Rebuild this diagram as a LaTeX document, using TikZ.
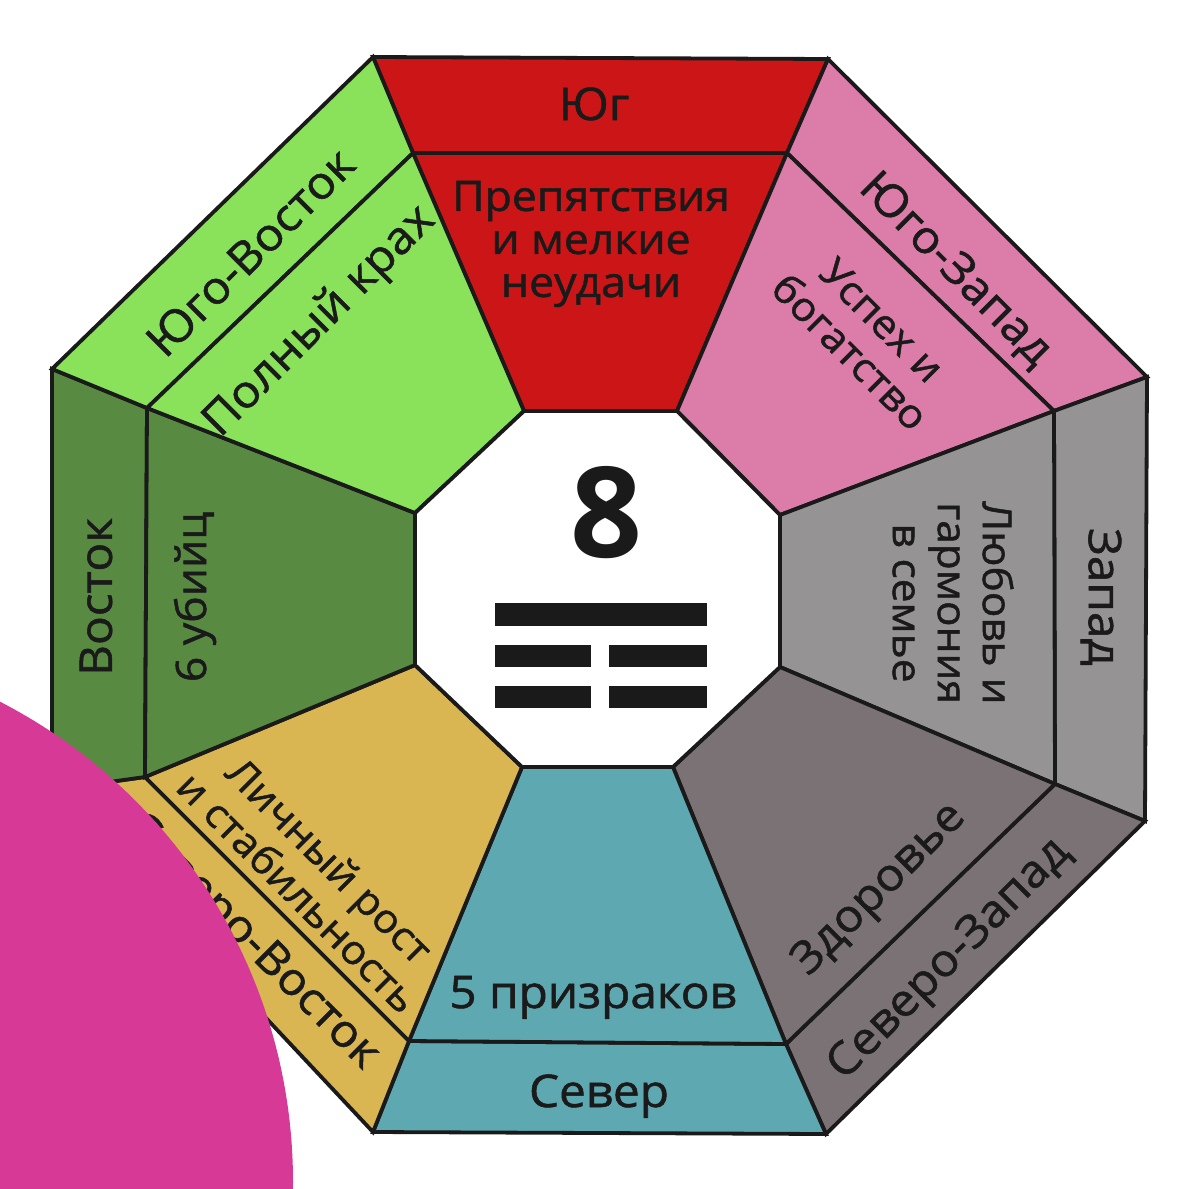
\documentclass[tikz,border=0pt]{standalone}
\usepackage{fontspec}
\setmainfont{Open Sans}
\newfontfamily\labelfont[FakeBold=1.2, FakeStretch=1.06]{Open Sans}
\definecolor{yugred}{HTML}{CC1517}
\definecolor{yzpink}{HTML}{DC7CA8}
\definecolor{zapgray}{HTML}{969394}
\definecolor{szgray}{HTML}{7A7274}
\definecolor{sevteal}{HTML}{5EA8B2}
\definecolor{svgold}{HTML}{D9B652}
\definecolor{vosgreen}{HTML}{598A42}
\definecolor{yvgreen}{HTML}{89E25A}
\definecolor{inkblack}{HTML}{1A1A1A}
\definecolor{blobpink}{HTML}{D63A96}
\begin{document}
\begin{tikzpicture}[x=1pt, y=-1pt, line width=3.8pt,
  sector/.style={draw=inkblack},
  dirlabel/.style={font=\labelfont\fontsize{45}{48}\selectfont, text=inkblack},
  meanlabel/.style={font=\labelfont\fontsize{40}{45}\selectfont, align=center, text=inkblack},
  bar/.style={fill=inkblack, draw=none}]
\useasboundingbox (0,0) rectangle (1200,1189);
\clip (0,0) rectangle (1200,1189);
% corners: outer, middle, inner octagon {{{
\foreach \n/\ox/\oy/\mx/\my/\ix/\iy in {1/373/57/413/153/524/411,
    2/828/59/787/153/677/411, 3/1147/377/1054/411/780/515,
    4/1145/821/1055/784/780/667, 5/826/1134/786/1044/673/767,
    6/373/1132/409/1041/522/767, 7/52/790/145/777/415/665,
    8/52/369/147/408/415/513} {
  \coordinate (o\n) at (\ox,\oy);
  \coordinate (m\n) at (\mx,\my);
  \coordinate (i\n) at (\ix,\iy);
}
% }}}
% sectors {{{
\foreach \a/\b/\col in {1/2/yugred, 2/3/yzpink, 3/4/zapgray, 4/5/szgray,
    5/6/sevteal, 6/7/svgold, 7/8/vosgreen, 8/1/yvgreen} {
  \filldraw[sector, fill=\col] (o\a) -- (o\b) -- (m\b) -- (m\a) -- cycle;
  \filldraw[sector, fill=\col] (m\a) -- (m\b) -- (i\b) -- (i\a) -- cycle;
}
\filldraw[sector, fill=white] (i1) -- (i2) -- (i3) -- (i4) -- (i5) -- (i6) -- (i7) -- (i8) -- cycle;
% }}}
% labels {{{
\node[dirlabel, anchor=base] (yug) at (594,120) {Юг};
\node[meanlabel, font=\labelfont\fontsize{42}{43}\selectfont] (prep) at (591,244) {Препятствия\\и мелкие\\неудачи};
\node[dirlabel, rotate=-45] (yugzap) at (955,270) {Юго-Запад};
\node[meanlabel, rotate=-45] (uspeh) at (866,336) {Успех и\\богатство};
\node[dirlabel, rotate=-90] (zapad) at (1101,597) {Запад};
\node[meanlabel, rotate=-90] (lyubov) at (953,603) {Любовь и\\гармония\\в семье};
\node[dirlabel, rotate=45] (sevzap) at (950,960) {Северо-Запад};
\node[dirlabel, rotate=45] (zdorov) at (880,890) {Здоровье};
\node[dirlabel, anchor=base] (sever) at (599,1107) {Север};
\node[dirlabel, anchor=base] (prizrak) at (593,1008) {5 призраков};
\node[dirlabel, rotate=-45] (sevvos) at (250,942) {Северо-Восток};
\node[meanlabel, rotate=-45] (lichny) at (314,876) {Личный рост\\и стабильность};
\node[dirlabel, rotate=90] (vostok) at (96,597) {Восток};
\node[dirlabel, rotate=90, font=\labelfont\fontsize{42}{48}\selectfont] (ubiyc) at (195,597) {6 убийц};
\node[dirlabel, rotate=45] (yugvos) at (250,252) {Юго-Восток};
\node[dirlabel, rotate=45] (krah) at (320,322) {Полный крах};
% }}}
% centre: number and trigram {{{
\node[anchor=base, text=inkblack, font=\fontsize{126}{130}\selectfont\bfseries] (num) at (606,557) {8};
\fill[bar] (495,603) rectangle (707,626);
\foreach \y in {645,686} {
  \fill[bar] (495,\y) rectangle (591,\y+22);
  \fill[bar] (609,\y) rectangle (707,\y+22);
}
% }}}
\fill[blobpink] (-247,1182) circle (540);
\end{tikzpicture}
\end{document}
